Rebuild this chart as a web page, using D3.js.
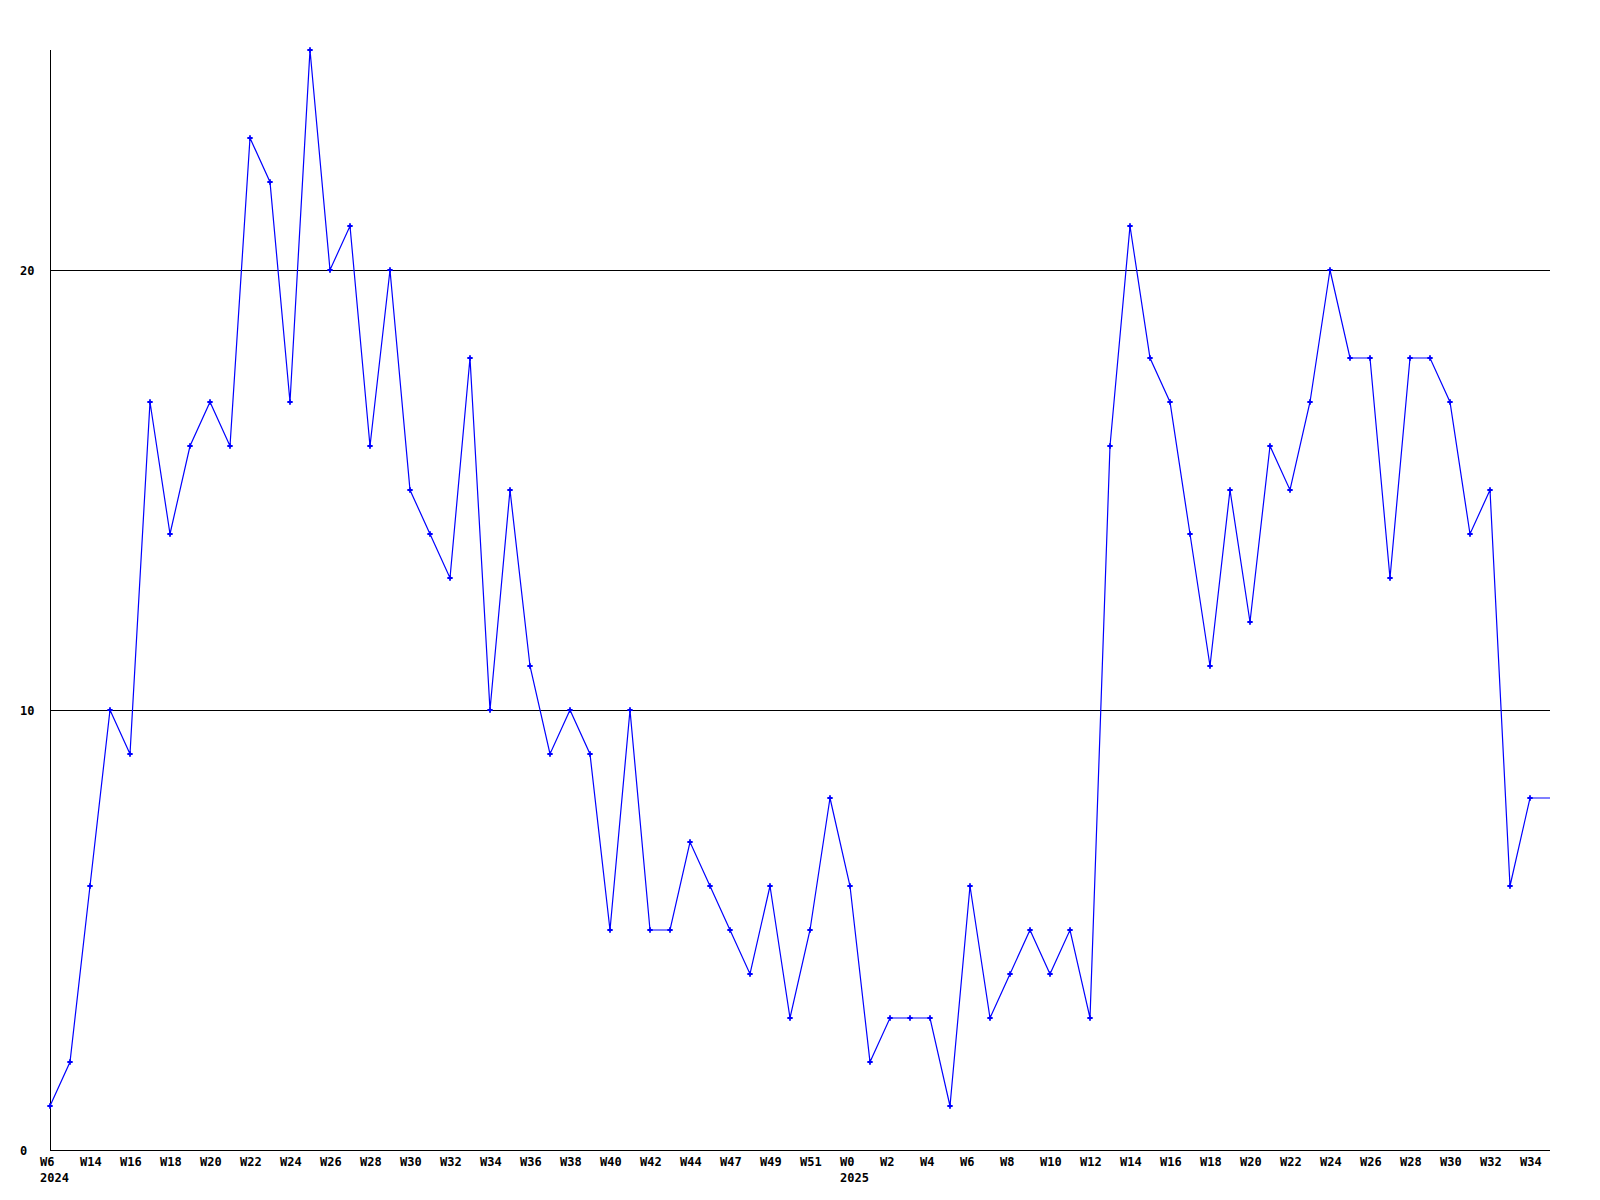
<!DOCTYPE html>
<html>
<head>
<meta charset="utf-8">
<script src="https://cdn.jsdelivr.net/npm/d3@7"></script>
<style>
  html, body { margin: 0; padding: 0; background: #fff; }
  svg { display: block; }
  text { font-family: "DejaVu Sans Mono", "Liberation Mono", monospace; font-weight: bold; font-size: 12px; fill: #000; }
</style>
</head>
<body>
<svg id="chart" width="1600" height="1200"></svg>
<script>
// ---- data ----
const weekValues = [
  1, 2, 6, 10, 9, 17, 14, 16, 17, 16,
  23, 22, 17, 25, 20, 21, 16, 20, 15, 14,
  13, 18, 10, 15, 11, 9, 10, 9, 5, 10,
  5, 5, 7, 6, 5, 4, 6, 3, 5, 8,
  6, 2, 3, 3, 3, 1, 6, 3, 4, 5,
  4, 5, 3, 16, 21, 18, 17, 14, 11, 15,
  12, 16, 15, 17, 20, 18, 18, 13, 18, 18,
  17, 14, 15, 6, 8
];
const tickLabels = [
  "W6", "W14", "W16", "W18", "W20", "W22", "W24", "W26", "W28", "W30",
  "W32", "W34", "W36", "W38", "W40", "W42", "W44", "W47", "W49", "W51",
  "W0", "W2", "W4", "W6", "W8", "W10", "W12", "W14", "W16", "W18",
  "W20", "W22", "W24", "W26", "W28", "W30", "W32", "W34"
];
const tickEvery = 2;
const yearLabels = [{ index: 0, label: "2024" }, { index: 40, label: "2025" }];
const yTicks = [0, 10, 20];
const yMax = 25;

// ---- layout ----
const mLeft = 50, mRight = 1550, mTop = 50, mBottom = 1150;
const svg = d3.select("#chart");

const x = d3.scaleLinear().domain([0, weekValues.length]).range([mLeft, mRight]);
const y = d3.scaleLinear().domain([0, yMax]).range([mBottom, mTop]);

// gridlines
svg.append("g").selectAll("line")
  .data(yTicks.filter(d => d > 0))
  .join("line")
  .attr("x1", mLeft).attr("x2", mRight)
  .attr("y1", d => Math.round(y(d)) + 0.5).attr("y2", d => Math.round(y(d)) + 0.5)
  .attr("stroke", "#000").attr("stroke-width", 1).attr("shape-rendering", "crispEdges");

// axes lines
svg.append("line")
  .attr("x1", mLeft + 0.5).attr("x2", mLeft + 0.5)
  .attr("y1", mTop).attr("y2", mBottom)
  .attr("stroke", "#000").attr("shape-rendering", "crispEdges");
svg.append("line")
  .attr("x1", mLeft).attr("x2", mRight)
  .attr("y1", mBottom + 0.5).attr("y2", mBottom + 0.5)
  .attr("stroke", "#000").attr("shape-rendering", "crispEdges");

// y labels
svg.append("g").selectAll("text")
  .data(yTicks)
  .join("text")
  .attr("x", 20)
  .attr("y", d => y(d) + 4.5)
  .text(d => d);

// x labels
svg.append("g").selectAll("text")
  .data(tickLabels)
  .join("text")
  .attr("x", (d, i) => x(i * tickEvery) - 10)
  .attr("y", mBottom + 16)
  .text(d => d);

svg.append("g").selectAll("text")
  .data(yearLabels)
  .join("text")
  .attr("x", d => x(d.index) - 10)
  .attr("y", mBottom + 32)
  .text(d => d.label);

// line (last value carried to the end of the axis)
const linePts = weekValues.map((v, i) => [x(i), y(v)]);
linePts.push([x(weekValues.length), y(weekValues[weekValues.length - 1])]);
svg.append("path")
  .attr("d", d3.line()(linePts))
  .attr("fill", "none")
  .attr("stroke", "#0000ff")
  .attr("stroke-width", 1.2);

// markers
svg.append("g").selectAll("path")
  .data(weekValues)
  .join("path")
  .attr("transform", (d, i) => `translate(${x(i)},${y(d)})`)
  .attr("d", d3.symbol().type(d3.symbolCross).size(16))
  .attr("fill", "#0000ff");
</script>
</body>
</html>
